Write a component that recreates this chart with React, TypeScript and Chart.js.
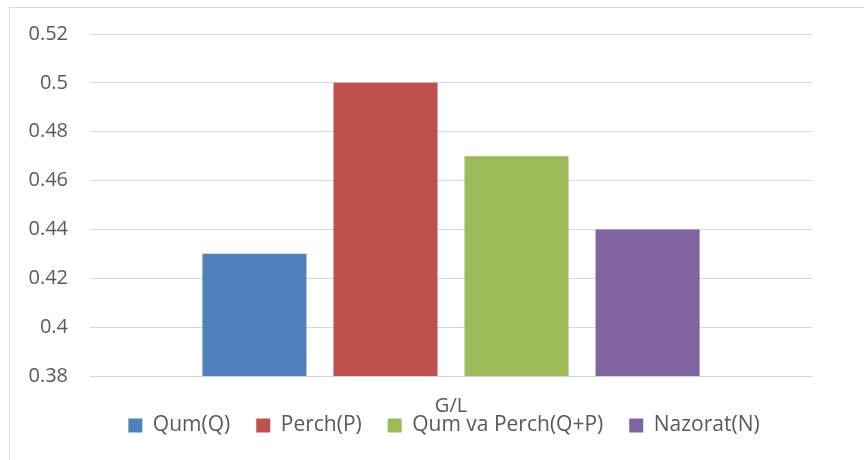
import React, { useEffect, useRef } from "react";
import { Chart, registerables } from "chart.js";

Chart.register(...registerables);

const categories = ["G/L"];
const seriesNames = ["Qum(Q)", "Perch(P)", "Qum va Perch(Q+P)", "Nazorat(N)"];
const seriesValues = [[0.43], [0.5], [0.47], [0.44]];
const seriesColors = ["#4F81BD", "#C0504D", "#9BBB59", "#8064A2"];
const yMin = 0.38;
const yMax = 0.52;
const yStep = 0.02;

const FONT = "'Open Sans', sans-serif";
const TEXT = "#595959";
const LEGEND_PAD = 26;
const LEGEND_H = 4;
const LEGEND_CENTER_Y = 425;
const LEGEND_SHIFT_X = 38;

const legendPlacer = {
  id: "legendPlacer",
  beforeLayout(chart: any) {
    const lg = chart.legend;
    if (lg && !lg.__patched) {
      const orig = lg.fit.bind(lg);
      lg.fit = function () {
        orig();
        this.height = LEGEND_H;
      };
      lg.__patched = true;
    }
  },
  afterLayout(chart: any) {
    const lg = chart.legend;
    if (!lg) return;
    const top = LEGEND_CENTER_Y - LEGEND_PAD - 10;
    lg.top = top;
    lg.bottom = chart.height;
    lg.height = chart.height - top;
    lg.left += LEGEND_SHIFT_X;
    lg.right += LEGEND_SHIFT_X;
  },
};

export default function App() {
  const ref = useRef<HTMLCanvasElement | null>(null);
  useEffect(() => {
    if (!ref.current) return;
    const chart = new Chart(ref.current, {
      type: "bar",
      data: {
        labels: categories,
        datasets: seriesNames.map((name, i) => ({
          label: name,
          data: seriesValues[i],
          backgroundColor: seriesColors[i],
          borderWidth: 0,
          categoryPercentage: 0.726,
          barPercentage: 0.794,
        })),
      },
      plugins: [legendPlacer],
      options: {
        animation: false,
        responsive: false,
        maintainAspectRatio: false,
        layout: { padding: { left: 0, right: 52, top: 33, bottom: 0 } },
        plugins: {
          tooltip: { enabled: false },
          legend: {
            position: "bottom",
            labels: {
              font: { family: FONT, size: 21 },
              color: TEXT,
              boxWidth: 14,
              boxHeight: 14,
              padding: LEGEND_PAD,
            },
          },
        },
        scales: {
          x: {
            grid: { display: false, drawTicks: false },
            border: { display: true, color: "#d9d9d9", width: 1 },
            ticks: { font: { family: FONT, size: 20 }, color: TEXT, padding: 18 },
            afterFit: (s: any) => {
              s.height = 80;
            },
          },
          y: {
            min: yMin,
            max: yMax,
            grid: { color: "#d9d9d9", lineWidth: 1, drawTicks: false },
            border: { display: false },
            ticks: {
              stepSize: yStep,
              font: { family: FONT, size: 20 },
              color: TEXT,
              padding: 22,
              callback: (v: any) => String(Math.round(Number(v) * 100) / 100),
            },
            afterFit: (s: any) => {
              s.width = 90;
            },
          },
        },
      },
    });
    return () => chart.destroy();
  }, []);
  return (
    <div style={{ position: "absolute", left: 0, top: 0, width: 864, height: 460, background: "#fff", overflow: "hidden" }}>
      <div
        style={{
          position: "absolute",
          left: 9,
          top: 7,
          width: 900,
          height: 500,
          border: "1px solid #d9d9d9",
        }}
      />
      <canvas ref={ref} width={864} height={460} style={{ position: "absolute", left: 0, top: 0 }} />
    </div>
  );
}
